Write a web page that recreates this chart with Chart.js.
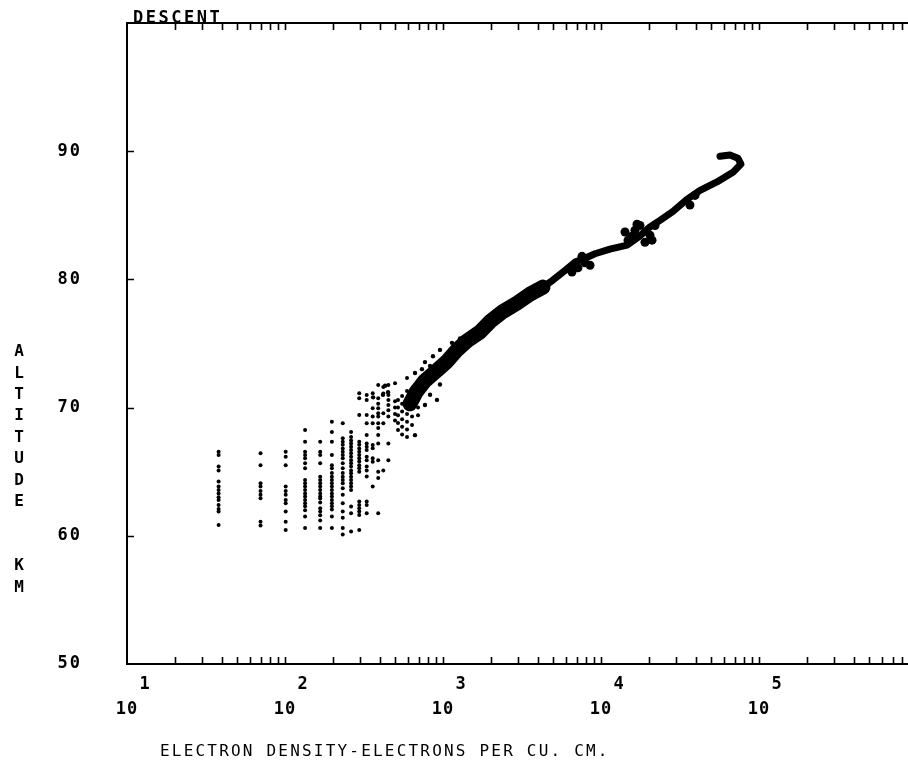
<!DOCTYPE html>
<html>
<head>
<meta charset="utf-8">
<title>Descent - electron density vs altitude</title>
<script src="https://cdn.jsdelivr.net/npm/chart.js@4.4.1/dist/chart.umd.min.js"></script>
<style>
  html, body { margin: 0; padding: 0; background: #fff; overflow: hidden; }
  #wrap { width: 925px; height: 764px; }
</style>
</head>
<body>
<div id="wrap"><canvas id="densityChart" width="925" height="764"></canvas></div>
<script>
// axis labels
const decadeExponents = [1, 2, 3, 4, 5];
const altitudeTicks = [50, 60, 70, 80, 90];
const yTitle = ['A', 'L', 'T', 'I', 'T', 'U', 'D', 'E', '', '', 'K', 'M'];

// low altitude readings fall in columns (quantized densities)
const colDensity = [38, 70, 101, 134, 167, 198, 232, 262, 295, 329, 359, 389, 419, 451, 497, 519, 551, 592, 637, 695];
const colAltitudes = [
  [66.56, 66.3, 65.4, 65.1, 64.23, 63.84, 63.58, 63.3, 63.0, 62.8, 62.4, 62.1, 61.9, 60.85],
  [66.43, 65.5, 64.1, 63.84, 63.5, 63.2, 62.93, 61.1, 60.8],
  [66.56, 66.17, 65.5, 63.84, 63.5, 63.2, 62.8, 62.54, 61.9, 61.1, 60.46],
  [68.25, 67.34, 66.56, 66.3, 66.04, 65.66, 65.27, 64.36, 64.1, 63.84, 63.58, 63.3, 63.06, 62.8, 62.54, 62.3, 62.0, 61.5, 60.6],
  [67.34, 66.56, 66.3, 65.66, 64.6, 64.36, 64.1, 63.84, 63.58, 63.3, 63.06, 62.9, 62.6, 62.15, 61.9, 61.6, 61.2, 60.6],
  [68.9, 68.1, 67.34, 66.3, 65.5, 65.27, 64.9, 64.6, 64.36, 64.1, 63.84, 63.58, 63.3, 63.06, 62.8, 62.54, 62.3, 62.05, 61.5, 60.6],
  [68.77, 67.6, 67.34, 67.1, 66.8, 66.56, 66.3, 66.04, 65.66, 65.27, 64.9, 64.6, 64.36, 64.1, 63.7, 63.2, 62.54, 61.9, 61.4, 60.6, 60.1],
  [68.1, 67.7, 67.44, 67.2, 66.95, 66.7, 66.43, 66.17, 65.9, 65.66, 65.4, 65.1, 64.88, 64.6, 64.36, 64.1, 63.84, 63.58, 62.28, 61.76, 60.33],
  [71.11, 70.72, 69.42, 67.34, 67.1, 66.8, 66.56, 66.3, 66.04, 65.8, 65.5, 65.27, 65.0, 62.67, 62.4, 62.15, 61.9, 61.63, 60.46],
  [70.98, 70.6, 69.42, 68.77, 67.86, 67.2, 66.95, 66.7, 66.17, 65.9, 65.4, 65.1, 64.62, 62.67, 62.4, 61.76],
  [71.11, 69.94, 69.3, 68.77, 67.08, 66.82, 66.04, 65.78, 63.84],
  [71.76, 70.72, 70.3, 69.94, 69.55, 69.3, 68.77, 68.4, 67.86, 67.2, 65.9, 65.0, 64.5, 61.76],
  [71.6, 71.1, 69.55, 68.77, 65.1],
  [71.76, 70.98, 70.6, 70.2, 69.8, 69.3, 67.2, 65.9],
  [71.9, 69.0, 69.5, 70.0, 70.5],
  [68.25, 68.8, 69.4, 70.0, 70.6],
  [67.9, 68.5, 69.1, 69.7, 70.3, 70.9],
  [67.7, 68.3, 68.9, 69.5, 70.1, 70.7, 71.3, 72.3],
  [68.65, 69.3, 70.0, 70.6],
  [69.4, 70.0, 70.6]
];

// dense band, lower (wide) part
const lowerBandDensity = [618, 675, 769, 916, 1060, 1227, 1419, 1714, 1983, 2397, 2940, 3555, 4296];
const lowerBandAltitude = [70.3, 71.2, 72.1, 72.9, 73.6, 74.5, 75.2, 75.9, 76.7, 77.5, 78.15, 78.85, 79.4];

// dense band, upper (narrow) part
const upperBandDensity = [3555, 4296, 4966, 5916, 6846, 7925, 9165, 11400, 14620, 17650, 20420, 23620, 28560, 35000, 42360, 54200, 68400, 76900, 73600, 65500, 56640];
const upperBandAltitude = [78.85, 79.4, 79.95, 80.7, 81.35, 81.65, 82.0, 82.36, 82.67, 83.4, 84.1, 84.6, 85.3, 86.25, 86.95, 87.6, 88.35, 89.0, 89.45, 89.7, 89.6];

// thick knots along the band
const knotDensity = [7150, 8520, 7580, 6550, 7900, 14830, 16410, 18980, 20420, 21980, 17650, 14190, 15710, 21040, 16900, 36560, 39360];
const knotAltitude = [80.9, 81.1, 81.8, 80.57, 81.3, 83.06, 83.84, 82.9, 83.45, 84.2, 84.2, 83.7, 83.37, 83.06, 84.3, 85.8, 86.55];

// scattered points around the lower band
const fuzzDensity = [430, 449, 665, 736, 828, 417, 361, 957, 1140, 1282, 864, 769, 828, 957, 916, 769, 665];
const fuzzAltitude = [71.7, 71.2, 72.7, 73.0, 73.25, 71.0, 70.8, 74.5, 75.05, 75.4, 74.0, 73.55, 71.0, 71.8, 70.6, 70.2, 67.85];

const zip = (xs, ys) => xs.map((v, i) => ({ x: v, y: ys[i] }));
const colPoints = [];
colDensity.forEach((d, i) => colAltitudes[i].forEach(a => colPoints.push({ x: d, y: a })));

const FONT = '"DejaVu Sans Mono", "Liberation Mono", monospace';

// plotter style frame, inward ticks and labels
const plotterAxes = {
  id: 'plotterAxes',
  afterDraw(chart) {
    const { ctx, chartArea: a, scales: { x, y } } = chart;
    ctx.save();
    ctx.strokeStyle = '#000';
    ctx.fillStyle = '#000';
    ctx.lineWidth = 2;
    ctx.beginPath();
    ctx.moveTo(a.right + 5, a.top);
    ctx.lineTo(a.left, a.top);
    ctx.lineTo(a.left, a.bottom);
    ctx.lineTo(a.right + 5, a.bottom);
    ctx.stroke();

    ctx.lineWidth = 1.6;
    ctx.beginPath();
    for (let e = 1; e <= 6; e++) {
      for (let m = 1; m <= 9; m++) {
        const v = m * Math.pow(10, e);
        if (v <= 10 || v > 1e6) continue;
        const px = Math.round(x.getPixelForValue(v)) + 0.5;
        ctx.moveTo(px, a.bottom); ctx.lineTo(px, a.bottom - 7);
        ctx.moveTo(px, a.top); ctx.lineTo(px, a.top + 7);
      }
    }
    altitudeTicks.forEach(v => {
      if (v <= 50) return;
      const py = Math.round(y.getPixelForValue(v)) + 0.5;
      ctx.moveTo(a.left, py); ctx.lineTo(a.left + 7, py);
    });
    ctx.stroke();

    // y tick labels
    ctx.font = 'bold 17px ' + FONT;
    ctx.letterSpacing = '2px';
    ctx.textAlign = 'right';
    ctx.textBaseline = 'middle';
    altitudeTicks.forEach(v => ctx.fillText(String(v), 82, y.getPixelForValue(v)));

    // x tick labels: 10 with exponent
    ctx.textAlign = 'center';
    ctx.letterSpacing = '1px';
    decadeExponents.forEach(e => {
      const px = x.getPixelForValue(Math.pow(10, e));
      ctx.fillText('10', px, 710);
      ctx.fillText(String(e), px + 18, 685);
    });

    // y title, stacked letters
    ctx.font = 'bold 16px ' + FONT;
    ctx.letterSpacing = '0px';
    yTitle.forEach((c, i) => { if (c) ctx.fillText(c, 19, 352 + i * 21.4); });

    // x title
    ctx.font = '16px ' + FONT;
    ctx.letterSpacing = '2.2px';
    ctx.textAlign = 'left';
    ctx.fillText('ELECTRON DENSITY-ELECTRONS PER CU. CM.', 160, 752);

    // chart title on top frame
    ctx.font = 'bold 17px ' + FONT;
    ctx.letterSpacing = '2.5px';
    ctx.textBaseline = 'alphabetic';
    ctx.fillText('DESCENT', 133, 23);
    ctx.restore();
  }
};

const dotStyle = { backgroundColor: '#000', borderWidth: 0, pointBorderWidth: 0 };
const bandStyle = { showLine: true, borderColor: '#000', pointRadius: 0, borderCapStyle: 'round', borderJoinStyle: 'round' };

new Chart(document.getElementById('densityChart'), {
  type: 'scatter',
  data: {
    datasets: [
      { ...bandStyle, data: zip(lowerBandDensity, lowerBandAltitude), borderWidth: 15 },
      { ...bandStyle, data: zip(upperBandDensity, upperBandAltitude), borderWidth: 7 },
      { ...dotStyle, data: zip(knotDensity, knotAltitude), pointRadius: 4.5 },
      { ...dotStyle, data: zip(fuzzDensity, fuzzAltitude), pointRadius: 2.2 },
      { ...dotStyle, data: colPoints, pointRadius: 2 }
    ]
  },
  options: {
    responsive: false,
    animation: false,
    events: [],
    layout: { padding: { left: 127, top: 23, right: 8, bottom: 100 } },
    plugins: { legend: { display: false }, tooltip: { enabled: false } },
    scales: {
      x: { type: 'logarithmic', min: 10, max: 1e6, display: false },
      y: { type: 'linear', min: 50, max: 100, display: false }
    }
  },
  plugins: [plotterAxes]
});
</script>
</body>
</html>
